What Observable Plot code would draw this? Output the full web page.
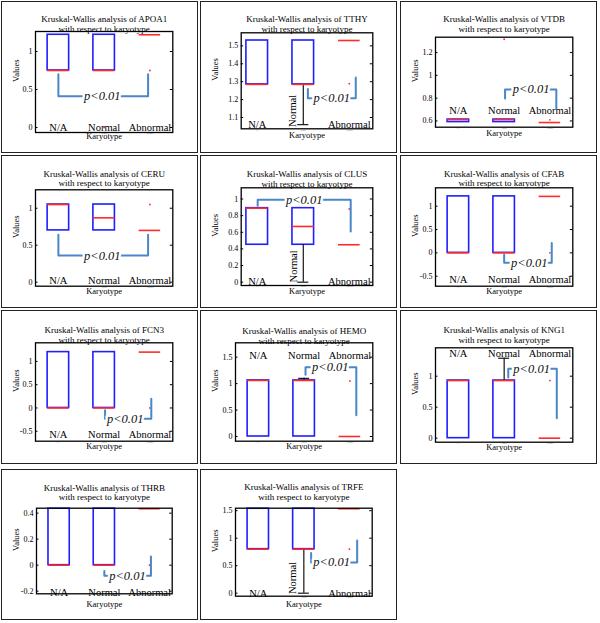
<!DOCTYPE html>
<html>
<head>
<meta charset="utf-8">
<script src="https://cdn.jsdelivr.net/npm/d3@7"></script>
<script src="https://cdn.jsdelivr.net/npm/@observablehq/plot@0.6"></script>
<style>
  html, body { margin: 0; padding: 0; background: #fff; }
  #wrap { position: relative; width: 600px; height: 623px; overflow: hidden; font-family: "Liberation Serif", "DejaVu Serif", serif; }
  .panel { position: absolute; }
  .panel svg { position: absolute; left: 0; top: 0; overflow: visible; }
  .border { position: absolute; left: 0; top: 0; right: 0; bottom: 0; border: 1.5px solid #222; box-sizing: border-box; pointer-events: none; }
</style>
</head>
<body>
<div id="wrap"></div>
<script>
// ---------------- data ----------------
const proteins = ["APOA1", "TTHY", "VTDB", "CERU", "CLUS", "CFAB", "FCN3", "HEMO", "KNG1", "THRB", "TRFE"];
const groups = ["N/A", "Normal", "Abnormal"];
const pLabel = "p<0.01";

// box statistics per protein, per group [N/A, Normal, Abnormal]
const q1 = [
  [0.75, 0.75, 1.22], [1.285, 1.285, 1.53], [0.59, 0.59, 0.586], [0.70, 0.70, 0.70],
  [0.45, 0.45, 0.45], [0, 0, 1.21], [0, 0, 1.20], [0, 0, 0], [0, 0, 0],
  [0, 0, 0.434], [0.80, 0.80, 1.535]
];
const medians = [
  [0.75, 0.75, 1.22], [1.285, 1.285, 1.53], [0.612, 0.612, 0.586], [1.05, 0.87, 0.70],
  [0.89, 0.67, 0.45], [0, 0, 1.21], [0, 0, 1.20], [1.06, 1.06, 0], [0.93, 0.93, 0],
  [0, 0, 0.434], [0.80, 0.80, 1.535]
];
const q3 = [
  [1.22, 1.22, 1.22], [1.53, 1.53, 1.53], [0.612, 0.612, 0.586], [1.05, 1.05, 0.70],
  [0.89, 0.89, 0.45], [1.21, 1.21, 1.21], [1.20, 1.20, 1.20], [1.06, 1.06, 0], [0.93, 0.93, 0],
  [0.434, 0.434, 0.434], [1.535, 1.535, 1.535]
];
// whiskers: [group position, from, to]
const whiskers = [
  [], [[2, 1.285, 1.06]], [], [], [[2, 0.45, 0]], [], [], [[2, 1.06, 1.10]], [[2, 0.93, 1.29]], [], [[2, 0.80, 0]]
];
// outliers: [group position, value]
const outliers = [
  [[3, 0.75], [2, 0]], [[3, 1.289]], [[2, 1.317], [3, 0.61]], [[3, 1.05]], [[3, 0.88]],
  [[3, 0]], [[3, 0]], [[3, 1.05]], [[3, 0.93]], [[3, 0]], [[3, 0.80]]
];
// category label placement (value axis) and rotated "Normal" label [x, y] if any
const labelY = [0, 1.063, 0.694, 0.02, 0.005, -0.577, -0.577, 1.53, 1.37, -0.208, 0];
const normalRotated = [null, [1.77, 1.137], null, null, [1.78, 0.19], null, null, null, null, null, [1.76, 0.276]];
// significance brackets (data coordinates) and label anchor
const bracketX = [
  [1, 1, 2.96, 2.96], [2.10, 2.10, 3.14, 3.14], [2.02, 2.02, 3.14, 3.14], [1, 1, 2.96, 2.96],
  [1.01, 1.01, 3.03, 3.03], [2, 2, 3.04, 3.04], [2.02, 2.02, 3.03, 3.03], [2.03, 2.03, 3.14, 3.14],
  [2.09, 2.09, 3.15, 3.15], [2, 2, 3.03, 3.03], [2.16, 2.16, 3.17, 3.17]
];
const bracketY = [
  [0.70, 0.41, 0.41, 0.70], [1.259, 1.208, 1.208, 1.323], [0.797, 0.877, 0.877, 0.709], [0.64, 0.36, 0.36, 0.64],
  [0.92, 0.99, 0.99, 0.61], [-0.04, -0.21, -0.21, 0.21], [-0.05, -0.23, -0.23, 0.20], [1.17, 1.31, 1.31, 0.40],
  [0.98, 1.12, 1.12, 0.32], [-0.044, -0.082, -0.082, 0.066], [0.73, 0.56, 0.56, 0.96]
];
const pTextPos = [
  [1.96, 0.41], [2.62, 1.208], [2.59, 0.877], [1.96, 0.36], [2.02, 0.99], [2.55, -0.21],
  [2.46, -0.23], [2.57, 1.31], [2.60, 1.12], [2.51, -0.082], [2.61, 0.56]
];
// axes
const yDomains = [
  [-0.066, 1.263], [1.037, 1.573], [0.545, 1.335], [-0.054, 1.249], [-0.04, 1.135], [-0.714, 1.394],
  [-0.714, 1.40], [-0.089, 1.772], [-0.065, 1.458], [-0.22, 0.438], [-0.055, 1.545]
];
const yTicks = [
  [0, 0.5, 1], [1.1, 1.2, 1.3, 1.4, 1.5], [0.6, 0.8, 1, 1.2], [0, 0.5, 1], [0, 0.2, 0.4, 0.6, 0.8, 1],
  [-0.5, 0, 0.5, 1], [-0.5, 0, 0.5, 1], [0, 0.5, 1, 1.5], [0, 0.5, 1], [-0.2, 0, 0.2, 0.4], [0, 0.5, 1, 1.5]
];
const xDomains = [
  [0.5, 3.5], [0.652, 3.51], [0.5, 3.5], [0.5, 3.5], [0.652, 3.51], [0.5, 3.5],
  [0.5, 3.5], [0.5, 3.5], [0.5, 3.5], [0.5, 3.5], [0.5, 3.5]
];

// ---------------- layout ----------------
const colLeft = [1, 200, 400];
const rowTop = [1, 155, 310, 469];
const rowH = [152, 153, 154, 151];
const panelW = 197;
// frame edges inside each panel: [left, right, top, bottom]
const frames = [
  [34, 171.3, 30, 131], [40.7, 172.3, 31.3, 127.3], [35, 172.3, 35.7, 125.7],
  [34, 171.3, 34.3, 130.7], [40.7, 172.3, 32.3, 130], [35, 172.3, 32.3, 130.7],
  [34, 171.3, 32.3, 130.7], [35, 172.3, 32.3, 130.7], [35, 172.3, 37.3, 131.7],
  [35, 170.7, 38.7, 124.3], [35, 171.7, 38.7, 126.7]
];
const titleY = [14.5, 14.5, 14.5, 15, 15.5, 15, 16.5, 17.5, 16.5, 15, 14.5];
const xLabelY = [137.5, 136, 134, 138, 138, 138, 138, 138, 139.5, 137.5, 137];

const BLUE = "#1f1fff", RED = "#ff2a2a", BRACKET = "#4a86c8";
const HW = 0.235, CAP = 0.12;
const wrap = document.getElementById("wrap");

proteins.forEach((prot, i) => {
  const col = i % 3, row = Math.floor(i / 3);
  const W = panelW, H = rowH[row];
  const [L, R, T, B] = frames[i];
  const fw = R - L;

  const boxes = groups.map((g, j) => ({g, x: j + 1, q1: q1[i][j], med: medians[i][j], q3: q3[i][j]}));
  const wh = whiskers[i].map(([x, a, b]) => ({x, a, b}));
  const outs = outliers[i].map(([x, v]) => ({x, v}));
  const bracket = bracketX[i].map((x, k) => ({x, y: bracketY[i][k]}));
  const labels = groups.map((g, j) => ({g, x: j + 1, y: labelY[i]}))
    .filter(d => !(d.g === "Normal" && normalRotated[i]));
  const rot = normalRotated[i] ? [{g: "Normal", x: normalRotated[i][0], y: normalRotated[i][1]}] : [];

  const svg = Plot.plot({
    width: W, height: H,
    marginLeft: L, marginRight: W - R, marginTop: T, marginBottom: H - B,
    x: {domain: xDomains[i], axis: null},
    y: {domain: yDomains[i]},
    style: {fontFamily: "'Liberation Serif', 'DejaVu Serif', serif", background: "transparent", color: "black", overflow: "visible"},
    marks: [
      // titles and axis labels
      Plot.text([`Kruskal-Wallis analysis of ${prot}`], {text: d => d, frameAnchor: "top", dy: titleY[i] - T, fontSize: 9, fill: "black"}),
      Plot.text(["with respect to karyotype"], {text: d => d, frameAnchor: "top", dy: titleY[i] + 9.5 - T, fontSize: 9, fill: "black"}),
      Plot.text(["Karyotype"], {text: d => d, frameAnchor: "bottom", dy: xLabelY[i] - B, fontSize: 8.5, fill: "black"}),
      Plot.text(["Values"], {text: d => d, frameAnchor: "left", dx: 14.5 - L, rotate: -90, fontSize: 8.5, fill: "black"}),
      // y axis (labels outside, ticks inside on both sides)
      Plot.axisY({ticks: yTicks[i], tickSize: 0, tickPadding: 3, tickFormat: d => String(d), fontSize: 8, label: null}),
      Plot.tickY(yTicks[i], {y: d => d, insetRight: fw - 2.5, stroke: "black", strokeWidth: 1}),
      Plot.tickY(yTicks[i], {y: d => d, insetLeft: fw - 2.5, stroke: "black", strokeWidth: 1}),
      // tiny group tick labels just under the axis
      Plot.text(groups, {text: d => d, x: (d, j) => j + 1, frameAnchor: "bottom", lineAnchor: "top", dy: 0.7, fontSize: 1.8, fill: "#888"}),
      // boxes
      Plot.rect(boxes, {x1: d => d.x - HW, x2: d => d.x + HW, y1: "q1", y2: "q3", fill: "none", stroke: BLUE, strokeWidth: 1.6}),
      Plot.ruleX(wh, {x: "x", y1: "a", y2: "b", stroke: "black", strokeWidth: 1.1}),
      Plot.ruleY(wh, {y: "b", x1: d => d.x - CAP, x2: d => d.x + CAP, stroke: "black", strokeWidth: 1.1}),
      Plot.ruleY(boxes, {y: "med", x1: d => d.x - HW, x2: d => d.x + HW, stroke: RED, strokeWidth: 1.6}),
      Plot.dot(outs, {x: "x", y: "v", r: 0.9, fill: RED, stroke: null}),
      // category labels drawn inside the axes
      Plot.text(labels, {x: "x", y: "y", text: "g", fontSize: 10.5, fill: "black"}),
      Plot.text(rot, {x: "x", y: "y", text: "g", rotate: -90, fontSize: 10.5, fill: "black"}),
      // significance bracket
      Plot.line(bracket, {x: "x", y: "y", stroke: BRACKET, strokeWidth: 2, curve: "linear"}),
      Plot.text([pLabel], {text: d => d, x: () => pTextPos[i][0], y: () => pTextPos[i][1], fontSize: 12.5, fontStyle: "italic", fill: "#111", stroke: "white", strokeWidth: 5}),
      Plot.frame({stroke: "black", strokeWidth: 1.3})
    ]
  });

  const panel = document.createElement("div");
  panel.className = "panel";
  panel.style.left = colLeft[col] + "px";
  panel.style.top = rowTop[row] + "px";
  panel.style.width = W + "px";
  panel.style.height = H + "px";
  panel.appendChild(svg);
  const border = document.createElement("div");
  border.className = "border";
  panel.appendChild(border);
  wrap.appendChild(panel);
});
</script>
</body>
</html>
